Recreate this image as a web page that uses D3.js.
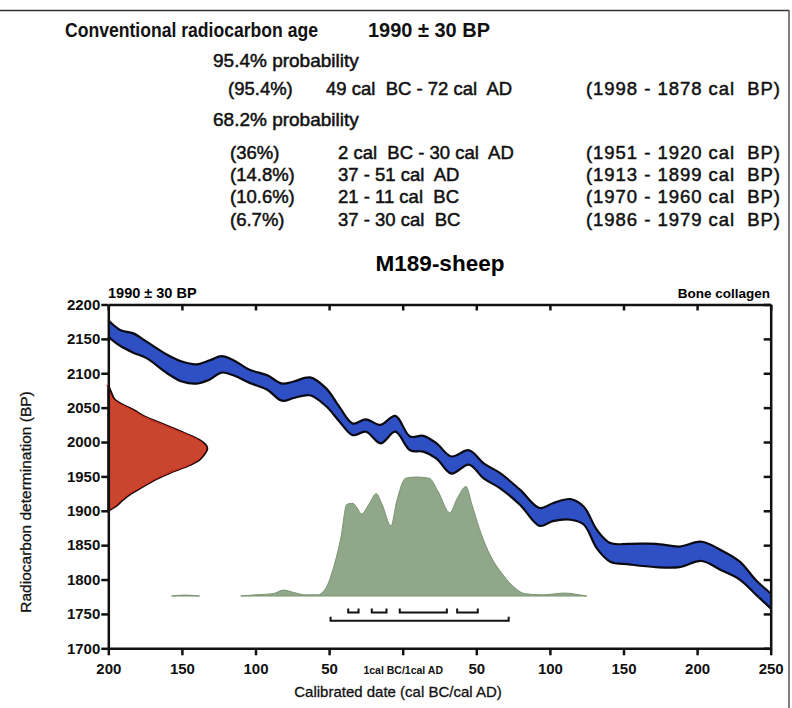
<!DOCTYPE html>
<html>
<head>
<meta charset="utf-8">
<script src="https://cdn.jsdelivr.net/npm/d3@7"></script>
<style>
  body { margin: 0; background: #fff; }
  svg text { font-family: "Liberation Sans", Arial, sans-serif; white-space: pre; }
</style>
</head>
<body>
<script>
// calibration curve band (years: negative = cal BC, positive = cal AD), edges in BP
var calYears = [-200,-192,-183,-174,-160,-150,-140,-131,-123,-115,-104,-92,-82,-74,-63,-52,-43,-34,-25,-15,-5,5,14,23,33,45,55,66,80,93,102,114,123,132,141,154,172,188,203,216,229,240,250];
var calUpper = [2177,2163,2158,2146,2127,2117,2113,2119,2125,2119,2105,2097,2085,2088,2094,2078,2051,2027,2033,2025,2038,2008,2009,1998,1979,1988,1969,1955,1930,1904,1911,1917,1906,1872,1853,1852,1852,1848,1855,1843,1826,1799,1780];
var calLower = [2153,2140,2130,2122,2100,2088,2085,2091,2101,2097,2086,2076,2060,2064,2068,2052,2030,2010,2015,1998,2015,1988,1986,1976,1954,1967,1947,1933,1908,1878,1885,1887,1880,1845,1826,1822,1818,1818,1827,1814,1800,1778,1758];

// measured radiocarbon date (relative probability per BP level)
var bpLevels  = [2083,2072,2061,2054,2047,2037,2028,2013,2003,1991,1980,1974,1965,1955,1945,1935,1925,1916,1906,1900];
var bpDensity = [0,0.03,0.07,0.15,0.25,0.37,0.52,0.77,0.92,1,0.96,0.92,0.8,0.62,0.47,0.35,0.23,0.15,0.07,0];

// calibrated date distribution (null = gap)
var postYears   = [-157,-148,-138,-137,-110,-100,-88,-81,-74,-66,-58,-52,-47,-42,-38,-34,-31,-28,-23,-18,-14,-8,-4,2,9,18,24,32,37,43,47,52,58,68,77,83,95,110,120,125];
var postDensity = [0,0.008,0,null,0,0.01,0.02,0.05,0.03,0.01,0.01,0.07,0.24,0.49,0.77,0.78,0.74,0.69,0.77,0.86,0.77,0.59,0.80,0.99,1.0,0.99,0.88,0.70,0.82,0.92,0.77,0.57,0.38,0.18,0.06,0.02,0.01,0.025,0.01,0];

// probability ranges (95.4% first, then the 68.2% ones)
var rangeFrom  = [-49,-2,37,-21,-37];
var rangeTo    = [72,30,51,-11,-30];
var rangeLevel = [1740,1752,1752,1752,1752];

// axis ticks
var xTicks = [-200,-150,-100,-50,0,50,100,150,200,250];
var xTickLabels = ["200","150","100","50","1cal BC/1cal AD","50","100","150","200","250"];
var yTicks = [1700,1750,1800,1850,1900,1950,2000,2050,2100,2150,2200];

// header text
var headTitle = "Conventional radiocarbon age";
var headAge = "1990 \u00b1 30 BP";
var probHeads = ["95.4% probability", "68.2% probability"];
var rangePct = ["(95.4%)","(36%)","(14.8%)","(10.6%)","(6.7%)"];
var rangeCal = ["49 cal  BC - 72 cal  AD","2 cal  BC - 30 cal  AD","37 - 51 cal  AD","21 - 11 cal  BC","37 - 30 cal  BC"];
var rangeBP  = ["(1998 - 1878 cal  BP)","(1951 - 1920 cal  BP)","(1913 - 1899 cal  BP)","(1970 - 1960 cal  BP)","(1986 - 1979 cal  BP)"];

var svg = d3.select("body").append("svg").attr("width", 792).attr("height", 708);

// page frame lines
svg.append("line").attr("x1", 0).attr("x2", 789).attr("y1", 10.5).attr("y2", 10.5)
    .attr("stroke", "#333").attr("stroke-width", 1.5);
svg.append("line").attr("x1", 789).attr("x2", 789).attr("y1", 10).attr("y2", 708)
    .attr("stroke", "#555").attr("stroke-width", 1.5);

// ---- header block
var head = svg.append("g").attr("fill", "#111");
head.append("text").attr("x", 65).attr("y", 37).attr("font-size", 21).attr("font-weight", "bold")
    .attr("textLength", 253).attr("lengthAdjust", "spacingAndGlyphs").text(headTitle);
head.append("text").attr("x", 368).attr("y", 37).attr("font-size", 21).attr("font-weight", "bold")
    .attr("textLength", 122).attr("lengthAdjust", "spacingAndGlyphs").text(headAge);

var probY = [67, 126];
probHeads.forEach(function(t, i) {
    head.append("text").attr("x", 213).attr("y", probY[i]).attr("font-size", 19)
        .attr("stroke", "#111").attr("stroke-width", 0.5).text(t);
});

var rowY = [95, 159, 181, 203, 226];
var colX = [[228, 326], [230, 338], [230, 338], [230, 338], [230, 338]];
rangePct.forEach(function(t, i) {
    var g = head.append("g").attr("font-size", 18.5).attr("stroke", "#111").attr("stroke-width", 0.5);
    g.append("text").attr("x", colX[i][0]).attr("y", rowY[i]).text(t);
    g.append("text").attr("x", colX[i][1]).attr("y", rowY[i]).text(rangeCal[i]);
    g.append("text").attr("x", 586).attr("y", rowY[i])
        .attr("textLength", 194).attr("lengthAdjust", "spacing").text(rangeBP[i]);
});

// ---- plot
var x = d3.scaleLinear().domain([-200, 250]).range([108.3, 770.7]);
var y = d3.scaleLinear().domain([1700, 2200]).range([648.3, 304.5]);

svg.append("text").attr("x", 440).attr("y", 271).attr("text-anchor", "middle")
    .attr("font-size", 22.5).attr("font-weight", "bold").text("M189-sheep");
svg.append("text").attr("x", 108).attr("y", 298).attr("font-size", 14.5).attr("font-weight", "bold").text(headAge);
svg.append("text").attr("x", 770).attr("y", 298).attr("text-anchor", "end")
    .attr("font-size", 13.5).attr("font-weight", "bold").text("Bone collagen");

// calibration band
var cal = calYears.map(function(d, i) { return {year: d, hi: calUpper[i], lo: calLower[i]}; });
var curve = d3.curveCatmullRom.alpha(0.5);
svg.append("path").datum(cal)
    .attr("d", d3.area().x(function(d) { return x(d.year); })
        .y0(function(d) { return y(d.lo); }).y1(function(d) { return y(d.hi); }).curve(curve))
    .attr("fill", "#2f4fc4");
["hi", "lo"].forEach(function(k) {
    svg.append("path").datum(cal)
        .attr("d", d3.line().x(function(d) { return x(d.year); })
            .y(function(d) { return y(d[k]); }).curve(curve))
        .attr("fill", "none").attr("stroke", "#0a0a14").attr("stroke-width", 2.2);
});

// measured date on the y axis
var gx = d3.scaleLinear().domain([0, 1]).range([x(-200), x(-200) + 99]);
var meas = bpLevels.map(function(d, i) { return {bp: d, p: bpDensity[i]}; });
svg.append("path").datum(meas)
    .attr("d", d3.area().y(function(d) { return y(d.bp); })
        .x0(gx(0)).x1(function(d) { return gx(d.p); }).curve(d3.curveMonotoneY))
    .attr("fill", "#c9452d").attr("stroke", "#1c0805").attr("stroke-width", 2);
svg.append("path").datum(meas)
    .attr("d", d3.line().y(function(d) { return y(d.bp); })
        .x(function(d) { return gx(d.p) - 1.5; }).curve(d3.curveMonotoneY))
    .attr("fill", "none").attr("stroke", "#ff3a2a").attr("stroke-width", 1);

// calibrated distribution
var ph = d3.scaleLinear().domain([0, 1]).range([y(1776), y(1776) - 119]);
var post = postYears.map(function(d, i) { return {year: d, p: postDensity[i]}; });
svg.append("path").datum(post)
    .attr("d", d3.area().defined(function(d) { return d.p !== null; })
        .x(function(d) { return x(d.year); })
        .y0(ph(0)).y1(function(d) { return ph(d.p); }).curve(d3.curveMonotoneX))
    .attr("fill", "#90a789").attr("stroke", "#7a9472").attr("stroke-width", 1);

// range brackets
rangeFrom.forEach(function(f, i) {
    var yy = y(rangeLevel[i]);
    svg.append("path")
        .attr("d", "M" + x(f) + "," + (yy - 4) + "V" + yy + "H" + x(rangeTo[i]) + "V" + (yy - 4))
        .attr("fill", "none").attr("stroke", "#111").attr("stroke-width", 2);
});

// axes
function styleAxis(g) {
    g.select(".domain").attr("stroke", "#111").attr("stroke-width", 2.5);
    g.selectAll(".tick line").attr("stroke", "#111").attr("stroke-width", 2.5);
    g.selectAll(".tick text").attr("fill", "#111").attr("font-family", "Liberation Sans, Arial, sans-serif")
        .attr("font-weight", "bold").attr("font-size", 15);
}

var gl = svg.append("g").attr("transform", "translate(" + x(-200) + ",0)")
    .call(d3.axisLeft(y).tickValues(yTicks).tickSize(7).tickSizeOuter(0).tickPadding(1).tickFormat(d3.format("d")));
styleAxis(gl);

var gb = svg.append("g").attr("transform", "translate(0," + y(1700) + ")")
    .call(d3.axisBottom(x).tickValues(xTicks).tickSize(7).tickSizeOuter(0).tickPadding(8)
        .tickFormat(function(d, i) { return xTickLabels[i]; }));
styleAxis(gb);
gb.selectAll(".tick text").filter(function(d) { return d === 0; })
    .attr("font-size", 10.5).attr("dy", "1.05em");

var gt = svg.append("g").attr("transform", "translate(0," + y(2200) + ")")
    .call(d3.axisTop(x).tickValues(xTicks).tickSize(-6).tickSizeOuter(0).tickFormat(""));
styleAxis(gt);

var gr = svg.append("g").attr("transform", "translate(" + x(250) + ",0)")
    .call(d3.axisRight(y).tickValues(yTicks).tickSize(-7).tickSizeOuter(0).tickFormat(""));
styleAxis(gr);

// axis titles
svg.append("text").attr("x", 398).attr("y", 697).attr("text-anchor", "middle")
    .attr("font-size", 15).attr("fill", "#111").attr("stroke", "#111").attr("stroke-width", 0.3)
    .text("Calibrated date (cal BC/cal AD)");
svg.append("text").attr("transform", "translate(31,502) rotate(-90)").attr("text-anchor", "middle")
    .attr("font-size", 15.5).attr("fill", "#111").attr("stroke", "#111").attr("stroke-width", 0.3)
    .text("Radiocarbon determination (BP)");
</script>
</body>
</html>
